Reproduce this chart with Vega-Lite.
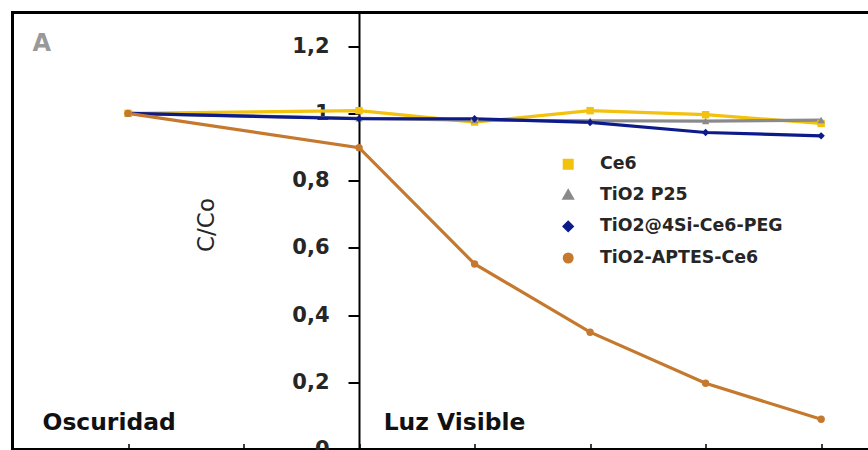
{
  "$schema": "https://vega.github.io/schema/vega-lite/v6.json",
  "autosize": {"type": "none"},
  "padding": {"left": 12.5, "top": 12.5, "right": 0, "bottom": 0},
  "width": 860,
  "height": 437,
  "background": "white",
  "config": {
    "font": "DejaVu Sans",
    "view": {"stroke": "black", "strokeWidth": 3},
    "locale": {"number": {"decimal": ",", "thousands": ".", "grouping": [3], "currency": ["", " €"]}}
  },
  "datasets": {
    "series": [
      {"t": -60, "v": 1.0, "s": "Ce6"},
      {"t": 0, "v": 1.008, "s": "Ce6"},
      {"t": 30, "v": 0.974, "s": "Ce6"},
      {"t": 60, "v": 1.008, "s": "Ce6"},
      {"t": 90, "v": 0.996, "s": "Ce6"},
      {"t": 120, "v": 0.970, "s": "Ce6"},
      {"t": -60, "v": 1.0, "s": "TiO2 P25"},
      {"t": 0, "v": 0.985, "s": "TiO2 P25"},
      {"t": 30, "v": 0.980, "s": "TiO2 P25"},
      {"t": 60, "v": 0.978, "s": "TiO2 P25"},
      {"t": 90, "v": 0.977, "s": "TiO2 P25"},
      {"t": 120, "v": 0.980, "s": "TiO2 P25"},
      {"t": -60, "v": 1.0, "s": "TiO2@4Si-Ce6-PEG"},
      {"t": 0, "v": 0.984, "s": "TiO2@4Si-Ce6-PEG"},
      {"t": 30, "v": 0.984, "s": "TiO2@4Si-Ce6-PEG"},
      {"t": 60, "v": 0.973, "s": "TiO2@4Si-Ce6-PEG"},
      {"t": 90, "v": 0.943, "s": "TiO2@4Si-Ce6-PEG"},
      {"t": 120, "v": 0.933, "s": "TiO2@4Si-Ce6-PEG"},
      {"t": -60, "v": 1.0, "s": "TiO2-APTES-Ce6"},
      {"t": 0, "v": 0.898, "s": "TiO2-APTES-Ce6"},
      {"t": 30, "v": 0.552, "s": "TiO2-APTES-Ce6"},
      {"t": 60, "v": 0.349, "s": "TiO2-APTES-Ce6"},
      {"t": 90, "v": 0.197, "s": "TiO2-APTES-Ce6"},
      {"t": 120, "v": 0.090, "s": "TiO2-APTES-Ce6"}
    ],
    "notes": [
      {"t": -82.2, "v": 0.059, "label": "Oscuridad"},
      {"t": 6.4, "v": 0.059, "label": "Luz Visible"}
    ],
    "panel": [
      {"t": -84.8, "v": 1.185, "label": "A"}
    ]
  },
  "layer": [
    {
      "data": {"name": "series"},
      "mark": {"type": "line", "strokeWidth": 3.2, "clip": true},
      "encoding": {
        "x": {
          "field": "t", "type": "quantitative",
          "scale": {"domain": [-90, 133.34], "nice": false, "zero": false},
          "axis": {
            "orient": "bottom", "title": null, "labels": false, "grid": false,
            "values": [-60, -30, 0, 30, 60, 90, 120],
            "tickSize": -6, "tickColor": "black", "tickWidth": 1.5,
            "domainColor": "black", "domainWidth": 3
          }
        },
        "y": {
          "field": "v", "type": "quantitative",
          "scale": {"domain": [0, 1.3], "nice": false},
          "axis": {
            "orient": "left", "offset": -346.5, "grid": false,
            "values": [0, 0.2, 0.4, 0.6, 0.8, 1, 1.2],
            "format": ".1~f",
            "domainColor": "black", "domainWidth": 2,
            "tickColor": "black", "tickWidth": 2, "tickSize": 11,
            "labelPadding": 19, "labelFont": "DejaVu Sans", "labelFontWeight": "bold",
            "labelFontSize": 21, "labelColor": "#262626",
            "title": "C/Co", "titleFont": "DejaVu Sans", "titleFontWeight": "normal",
            "titleFontSize": 23, "titleColor": "#262626",
            "titleX": -140.5, "titleY": 212
          }
        },
        "color": {
          "field": "s", "type": "nominal",
          "scale": {
            "domain": ["Ce6", "TiO2 P25", "TiO2@4Si-Ce6-PEG", "TiO2-APTES-Ce6"],
            "range": ["#F2C20F", "#8A8A8A", "#0D1A8A", "#C5792E"]
          },
          "legend": {
            "title": null, "orient": "none", "legendX": 529.5, "legendY": 143,
            "padding": 0, "symbolSize": 64, "symbolStrokeWidth": 3, "symbolOffset": 17.5,
            "rowPadding": 10.6, "labelOffset": 23, "labelLimit": 400,
            "labelFont": "DejaVu Sans", "labelFontWeight": "bold", "labelFontSize": 17.4,
            "labelColor": "#262626"
          }
        }
      }
    },
    {
      "data": {"name": "series"},
      "mark": {"type": "point", "filled": true, "size": 55, "opacity": 1},
      "encoding": {
        "x": {"field": "t", "type": "quantitative"},
        "y": {"field": "v", "type": "quantitative"},
        "color": {"field": "s", "type": "nominal"},
        "shape": {
          "field": "s", "type": "nominal",
          "scale": {
            "domain": ["Ce6", "TiO2 P25", "TiO2@4Si-Ce6-PEG", "TiO2-APTES-Ce6"],
            "range": ["square", "triangle-up", "diamond", "circle"]
          },
          "legend": null
        }
      }
    },
    {
      "data": {"name": "notes"},
      "mark": {"type": "text", "align": "left", "baseline": "alphabetic", "font": "DejaVu Sans", "fontWeight": "bold", "fontSize": 23.4, "color": "#111111"},
      "encoding": {
        "x": {"field": "t", "type": "quantitative"},
        "y": {"field": "v", "type": "quantitative"},
        "text": {"field": "label"}
      }
    },
    {
      "data": {"name": "panel"},
      "mark": {"type": "text", "align": "left", "baseline": "alphabetic", "font": "DejaVu Sans", "fontWeight": "bold", "fontSize": 24, "color": "#999999"},
      "encoding": {
        "x": {"field": "t", "type": "quantitative"},
        "y": {"field": "v", "type": "quantitative"},
        "text": {"field": "label"}
      }
    }
  ]
}
